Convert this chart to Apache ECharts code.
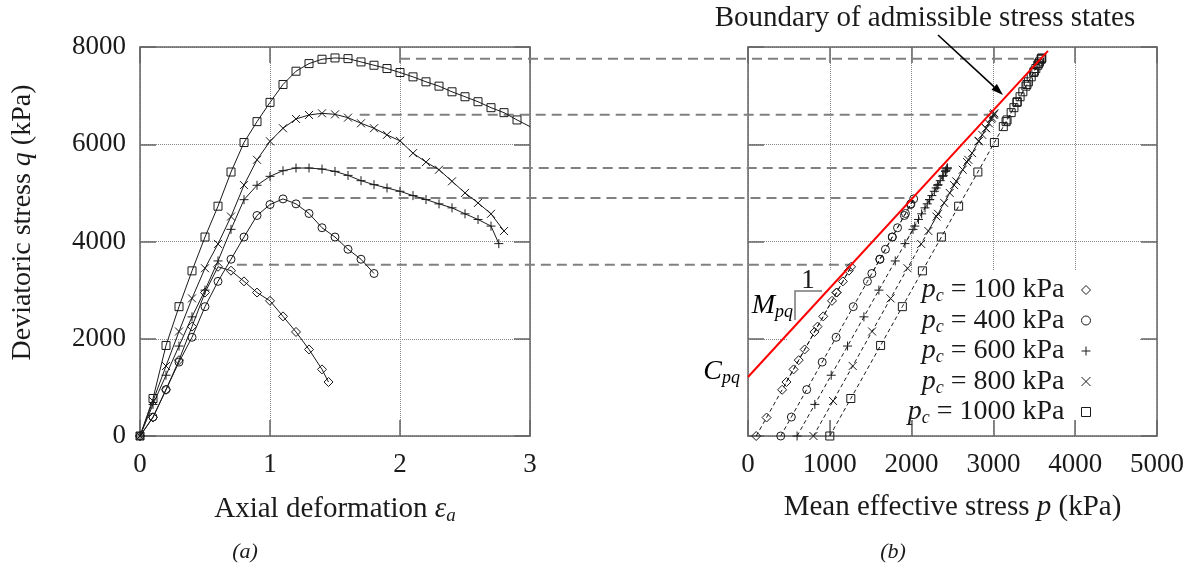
<!DOCTYPE html>
<html><head><meta charset="utf-8">
<script src="https://cdn.jsdelivr.net/npm/echarts/dist/echarts.min.js"></script>
<style>html,body{margin:0;padding:0;background:#fff}#c{width:1204px;height:568px}</style>
</head><body><div id="c"></div>
<script>
// ---- data ----
const pcValues = ['100', '400', '600', '800', '1000'];

const eps100 = [0,0.1,0.2,0.3,0.4,0.5,0.6,0.7,0.8,0.9,1.0,1.1,1.2,1.3,1.4,1.45];
const q100   = [0,380,950,1560,2250,2950,3480,3400,3180,2950,2780,2460,2140,1780,1370,1110];
const p100   = [100,227,417,620,850,1083,1260,1233,1160,1083,1027,920,813,693,557,470];

const eps400 = [0,0.1,0.2,0.3,0.4,0.5,0.6,0.7,0.8,0.9,1.0,1.1,1.2,1.3,1.4,1.5,1.6,1.7,1.8];
const q400   = [0,390,955,1520,2030,2660,3180,3635,4092,4535,4760,4876,4774,4576,4283,4092,3840,3635,3342];
const p400   = [400,530,718,907,1077,1287,1460,1612,1764,1912,1987,2025,1991,1925,1828,1764,1680,1612,1514];

const eps600 = [0,0.1,0.2,0.3,0.4,0.5,0.6,0.7,0.8,0.9,1.0,1.1,1.2,1.3,1.4,1.5,1.6,1.7,1.8,1.9,2.0,2.1,2.2,2.3,2.4,2.5,2.6,2.7,2.76];
const q600   = [0,650,1250,1850,2450,3000,3600,4250,4860,5156,5340,5456,5511,5511,5490,5442,5360,5251,5169,5101,5033,4944,4863,4774,4692,4569,4453,4317,3956];
const p600   = [600,817,1017,1217,1417,1600,1800,2017,2220,2319,2380,2419,2437,2437,2430,2414,2387,2350,2323,2300,2278,2248,2221,2191,2164,2123,2084,2039,1919];

const eps800 = [0,0.1,0.2,0.3,0.4,0.5,0.6,0.7,0.8,0.9,1.0,1.1,1.2,1.3,1.4,1.5,1.6,1.7,1.8,1.9,2.0,2.1,2.2,2.3,2.4,2.5,2.6,2.7,2.8];
const q800   = [0,720,1440,2150,2830,3450,3950,4513,5160,5680,6060,6329,6520,6602,6636,6615,6547,6431,6329,6193,6070,5817,5633,5476,5238,4999,4794,4569,4215];
const p800   = [800,1040,1280,1517,1743,1950,2117,2304,2520,2693,2820,2910,2973,3001,3012,3005,2982,2944,2910,2864,2823,2739,2678,2625,2546,2466,2398,2323,2205];

const eps1000 = [0,0.1,0.2,0.3,0.4,0.5,0.6,0.7,0.8,0.9,1.0,1.1,1.2,1.3,1.4,1.5,1.6,1.7,1.8,1.9,2.0,2.1,2.2,2.3,2.4,2.5,2.6,2.7,2.8,2.9,3.0];
const q1000   = [0,771,1862,2660,3396,4092,4726,5429,6036,6465,6861,7229,7502,7659,7748,7775,7761,7693,7625,7557,7475,7386,7284,7195,7079,6977,6875,6752,6650,6500,6363];
const p1000   = [1000,1257,1621,1887,2132,2364,2575,2810,3012,3155,3287,3410,3501,3553,3583,3592,3587,3564,3542,3519,3492,3462,3428,3398,3360,3326,3292,3251,3217,3167,3121];

// boundary of admissible stress states (red line)
const boundaryP = [0, 3667];
const boundaryQ = [1213, 7920];

// horizontal dashed connectors (peak q), start strain in (a), end p in (b)
const dashQ        = [7757, 6605, 5514, 4897, 3520];
const dashEpsStart = [2.0, 1.69, 1.59, 1.25, 0.745];
const dashPEnd     = [3560, 2935, 2384, 1980, 1247];

// ---- styling ----
const F = '"Liberation Serif", "DejaVu Serif", serif';
const INK = '#1a1a1a';
const AX = '#666';
const symbols = ['diamond', 'circle', 'path://M5,0L5,10M0,5L10,5', 'path://M0,0L10,10M10,0L0,10', 'rect'];
const sizes = [9, 8, 9, 8, 8];

const EPS = [eps100, eps400, eps600, eps800, eps1000];
const Q = [q100, q400, q600, q800, q1000];
const P = [p100, p400, p600, p800, p1000];

const mkRich = (fs, sub, off) => ({
  t: {fontFamily: F, fontSize: fs, color: INK},
  i: {fontFamily: F, fontSize: fs, color: INK, fontStyle: 'italic'},
  s: {fontFamily: F, fontSize: sub, color: INK, fontStyle: 'italic', padding: [off, 0, 0, 0]}
});
const rich = mkRich(28, 18, 13);

function axisCommon(extra) {
  return Object.assign({
    type: 'value',
    axisLine: {show: true, onZero: false, lineStyle: {color: AX, width: 1.5}},
    axisTick: {show: true, inside: true, length: 16, lineStyle: {color: AX, width: 1.5}},
    axisLabel: {show: false},
    splitLine: {show: false}
  }, extra);
}
const gridLine = {show: true, lineStyle: {type: 'dotted', color: '#888', width: 1}};
const lbl = (m) => ({show: true, margin: m, fontFamily: F, fontSize: 27, color: INK, formatter: (v) => String(v)});

const series = [];
for (let k = 0; k < 5; k++) {
  const base = {
    type: 'line', name: pcValues[k], symbol: symbols[k], showAllSymbol: true,
    itemStyle: {color: 'rgba(0,0,0,0)', borderColor: INK, borderWidth: 1},
    animation: false, silent: true, z: 3
  };
  series.push(Object.assign({}, base, {
    xAxisIndex: 0, yAxisIndex: 0,
    data: EPS[k].map((e, j) => [e, Q[k][j]]),
    symbolSize: (v) => v[0] >= 3 ? 0 : sizes[k],
    lineStyle: {color: INK, width: 1, type: 'solid'}
  }));
  series.push(Object.assign({}, base, {
    xAxisIndex: 1, yAxisIndex: 1,
    data: P[k].map((p, j) => [p, Q[k][j]]),
    symbolSize: sizes[k],
    lineStyle: {color: INK, width: 1, type: [4, 3]}
  }));
}
series.push({
  type: 'line', name: 'boundary', xAxisIndex: 1, yAxisIndex: 1,
  data: boundaryP.map((p, j) => [p, boundaryQ[j]]),
  symbol: 'none', lineStyle: {color: '#ff0000', width: 2}, z: 5, silent: true, animation: false
});

const option = {
  animation: false,
  backgroundColor: '#fff',
  grid: [
    {left: 140, top: 47, width: 390, height: 389, outerBoundsMode: 'none', containLabel: false},
    {left: 748, top: 47, width: 409, height: 389, outerBoundsMode: 'none', containLabel: false}
  ],
  xAxis: [
    axisCommon({gridIndex: 0, min: 0, max: 3, interval: 1, position: 'bottom', axisLabel: lbl(15), splitLine: gridLine,
      name: '{t|Axial deformation }{i|ε}{s|a}', nameLocation: 'middle', nameGap: 57,
      nameTextStyle: {fontFamily: F, fontSize: 29, color: INK, rich: mkRich(29, 19, 13)}}),
    axisCommon({gridIndex: 1, min: 0, max: 5000, interval: 1000, position: 'bottom', axisLabel: lbl(15), splitLine: gridLine,
      name: '{t|Mean effective stress }{i|p}{t| (kPa)}', nameLocation: 'middle', nameGap: 57,
      nameTextStyle: {fontFamily: F, fontSize: 29, color: INK, rich: mkRich(29, 19, 13)}}),
    axisCommon({gridIndex: 0, min: 0, max: 3, interval: 1, position: 'top'}),
    axisCommon({gridIndex: 1, min: 0, max: 5000, interval: 1000, position: 'top'})
  ],
  yAxis: [
    axisCommon({gridIndex: 0, min: 0, max: 8000, interval: 2000, position: 'left', axisLabel: lbl(14), splitLine: gridLine,
      name: '{t|Deviatoric stress }{i|q}{t| (kPa)}', nameLocation: 'middle', nameGap: 103, nameRotate: 90,
      nameTextStyle: {fontFamily: F, fontSize: 28, color: INK, rich: mkRich(28, 18, 13), padding: [0, 0, 0, 38]}}),
    axisCommon({gridIndex: 1, min: 0, max: 8000, interval: 2000, position: 'left', splitLine: gridLine}),
    axisCommon({gridIndex: 0, min: 0, max: 8000, interval: 2000, position: 'right'}),
    axisCommon({gridIndex: 1, min: 0, max: 8000, interval: 2000, position: 'right'})
  ],
  legend: {
    orient: 'vertical', right: 108, top: 270, align: 'right', itemGap: 0,
    itemWidth: 9, itemHeight: 9, selectedMode: false, z: 6,
    data: pcValues.map((n, k) => ({name: n, icon: symbols[k]})),
    itemStyle: {borderWidth: 1, borderColor: INK, color: 'rgba(0,0,0,0)'},
    formatter: (n) => '{i|p}{s|c}{t| = ' + n + ' kPa}',
    textStyle: {fontFamily: F, fontSize: 28, color: INK, lineHeight: 30, rich: {
      t: {fontFamily: F, fontSize: 28, color: INK, padding: [0, 12, 0, 0]},
      i: {fontFamily: F, fontSize: 28, color: INK, fontStyle: 'italic'},
      s: {fontFamily: F, fontSize: 18, color: INK, fontStyle: 'italic', padding: [13, 0, 0, 0]}
    }}
  },
  series: series
};

const chart = echarts.init(document.getElementById('c'), null, {renderer: 'canvas'});
chart.setOption(option);

// ---- annotations ----
const els = [];
// white key box hiding the grid lines behind the legend
els.push({type: 'rect', z: 1, silent: true, shape: {x: 787, y: 270, width: 353, height: 150}, style: {fill: '#fff'}});
// dashed connectors, placed through the axes' own scales
for (let k = 0; k < dashQ.length; k++) {
  const a = chart.convertToPixel({xAxisIndex: 0, yAxisIndex: 0}, [dashEpsStart[k], dashQ[k]]);
  const b = chart.convertToPixel({xAxisIndex: 1, yAxisIndex: 1}, [dashPEnd[k], dashQ[k]]);
  els.push({type: 'line', z: 1, silent: true, shape: {x1: a[0], y1: a[1], x2: b[0], y2: b[1]},
    style: {stroke: '#808080', lineWidth: 2, lineDash: [10, 6]}});
}
// title + arrow
els.push({type: 'text', x: 925, y: 18, z: 10, style: {text: 'Boundary of admissible stress states', font: '29px ' + F, fill: INK, textAlign: 'center', textVerticalAlign: 'middle'}});
const tip = [1003, 95], tail = [938, 35];
const dx = tip[0] - tail[0], dy = tip[1] - tail[1], L = Math.hypot(dx, dy), ux = dx / L, uy = dy / L;
const back = [tip[0] - 12 * ux, tip[1] - 12 * uy];
els.push({type: 'line', z: 10, shape: {x1: tail[0], y1: tail[1], x2: back[0], y2: back[1]}, style: {stroke: '#000', lineWidth: 1.6}});
els.push({type: 'polygon', z: 10, shape: {points: [tip, [back[0] - 4 * uy, back[1] + 4 * ux], [back[0] + 4 * uy, back[1] - 4 * ux]]}, style: {fill: '#000'}});
// C_pq
els.push({type: 'text', x: 740, y: 372, z: 10, style: {text: '{i|C}{s|pq}', rich: rich, textAlign: 'right', textVerticalAlign: 'middle'}});
// slope triangle
els.push({type: 'polyline', z: 10, shape: {points: [[822, 291], [795, 291], [795, 320]]}, style: {stroke: '#777', lineWidth: 1.5, fill: null}});
els.push({type: 'text', x: 793, y: 306, z: 10, style: {text: '{i|M}{s|pq}', rich: rich, textAlign: 'right', textVerticalAlign: 'middle'}});
els.push({type: 'text', x: 808, y: 281, z: 10, style: {text: '1', font: '27px ' + F, fill: INK, textAlign: 'center', textVerticalAlign: 'middle'}});
// sub-figure tags
els.push({type: 'text', x: 245, y: 552, z: 10, style: {text: '(a)', font: 'italic 22px ' + F, fill: INK, textAlign: 'center', textVerticalAlign: 'middle'}});
els.push({type: 'text', x: 893, y: 552, z: 10, style: {text: '(b)', font: 'italic 22px ' + F, fill: INK, textAlign: 'center', textVerticalAlign: 'middle'}});

chart.setOption({graphic: {elements: els}});
</script>
</body></html>
